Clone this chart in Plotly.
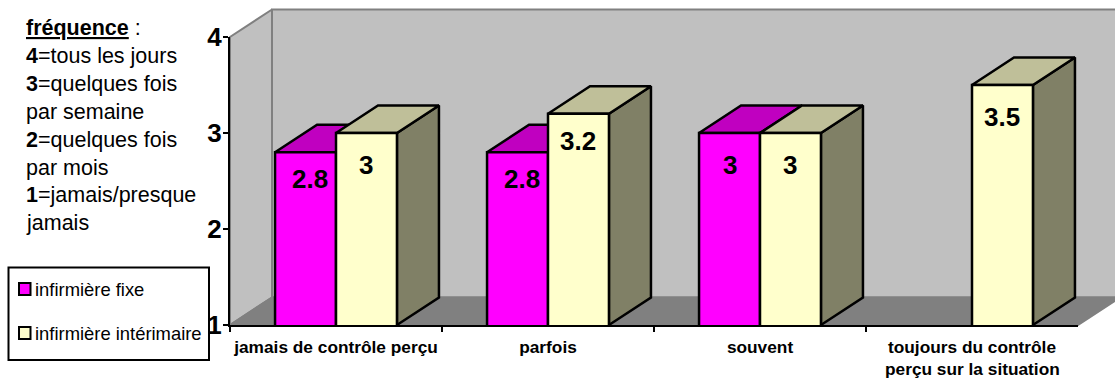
import plotly.graph_objects as go

# ---------- data ----------
categories = ["jamais de contrôle perçu", "parfois", "souvent", "toujours du contrôle"]
category_second_line = [None, None, None, "perçu sur la situation"]
series_fixe_name = "infirmière fixe"
series_interim_name = "infirmière intérimaire"
series_fixe = [2.8, 2.8, 3, None]
series_interim = [3, 3.2, 3, 3.5]
y_ticks = [1, 2, 3, 4]
note_lines = [
    "<u><b>fréquence</b></u> :",
    "<b>4</b>=tous les jours",
    "<b>3</b>=quelques fois",
    "par semaine",
    "<b>2</b>=quelques fois",
    "par mois",
    "<b>1</b>=jamais/presque",
    "jamais",
]

# ---------- geometry / style ----------
W, H = 1115, 383
FONT = "Liberation Sans, Arial, sans-serif"
X0, X1, Y1PX, Y4PX = 230, 1078, 325, 37      # front plane of the 3-D box, in px
PX_PER_CAT = (X1 - X0) / len(categories)
PX_PER_UNIT = (Y1PX - Y4PX) / 3
BAR_GAP = 0.425
BAR_W = (1 - BAR_GAP) / 2
DEPTH_X = 42 / PX_PER_CAT                    # depth in category units
DEPTH_Y = 27.5 / PX_PER_UNIT                 # depth in value units
C_WALL, C_FLOOR, C_EDGE = "#C0C0C0", "#808080", "#808080"
C_FIXE = ("#FF00FF", "#C000C0", "#800080")
C_INTERIM = ("#FFFFCC", "#BFBF99", "#808066")
LABEL_SIZE = 26
BAR_LINE = 2.5

x_min = -0.5 - X0 / PX_PER_CAT
x_max = x_min + W / PX_PER_CAT
y_min = 1 - (H - Y1PX) / PX_PER_UNIT
y_max = 1 + Y1PX / PX_PER_UNIT

fig = go.Figure()


def poly(xs, ys, fill, line="black", width=BAR_LINE):
    fig.add_trace(go.Scatter(
        x=xs + xs[:1], y=ys + ys[:1], mode="lines", fill="toself", fillcolor=fill,
        line=dict(color=line, width=width), hoverinfo="skip", showlegend=False,
        xaxis="x", yaxis="y"))


# walls and floor
L, R = -0.5, len(categories) - 0.5
poly([L + DEPTH_X, x_max + 1, x_max + 1, L + DEPTH_X],
     [1 + DEPTH_Y, 1 + DEPTH_Y, 4 + DEPTH_Y, 4 + DEPTH_Y], C_WALL, C_EDGE, 2)
poly([L, L + DEPTH_X, L + DEPTH_X, L], [1, 1 + DEPTH_Y, 4 + DEPTH_Y, 4], C_WALL, C_EDGE, 2)
poly([L, L + DEPTH_X, R + DEPTH_X, R], [1, 1 + DEPTH_Y, 1 + DEPTH_Y, 1], C_FLOOR, C_EDGE, 2)

# tops and sides of the bars
for slot, (vals, cols) in enumerate(((series_fixe, C_FIXE), (series_interim, C_INTERIM))):
    for i, v in enumerate(vals):
        if v is None:
            continue
        a = i + (slot - 1) * BAR_W
        b = a + BAR_W
        poly([b, b + DEPTH_X, b + DEPTH_X, b], [1, 1 + DEPTH_Y, v + DEPTH_Y, v], cols[2])
        poly([a, a + DEPTH_X, b + DEPTH_X, b], [v, v + DEPTH_Y, v + DEPTH_Y, v], cols[1])

# front faces: real bars on the visible axes
for name, vals, cols in ((series_fixe_name, series_fixe, C_FIXE),
                         (series_interim_name, series_interim, C_INTERIM)):
    fig.add_trace(go.Bar(
        x=categories, y=vals, name=name, xaxis="x2", yaxis="y2", showlegend=False,
        marker=dict(color=cols[0], line=dict(color="black", width=BAR_LINE))))

annotations = []

# value labels (offsets are small label nudges, in px)
for slot, vals in enumerate((series_fixe, series_interim)):
    for i, v in enumerate(vals):
        if v is None:
            continue
        near = v != 3 and v != 3.5
        annotations.append(dict(
            x=i + (slot - 0.5) * BAR_W, y=v, xref="x", yref="y", text=f"<b>{v:g}</b>",
            showarrow=False, xanchor="center", yanchor="middle",
            xshift=4 if (slot == 0 and near) else 0,
            yshift=-(27 if near else 32),
            font=dict(family=FONT, size=LABEL_SIZE, color="black")))

# second line of the category label
for i, t in enumerate(category_second_line):
    if t:
        annotations.append(dict(
            x=i, y=1, xref="x", yref="y", text=f"<b>{t}</b>", showarrow=False,
            xanchor="center", yanchor="middle", yshift=-44,
            font=dict(family=FONT, size=17.3, color="black")))

# note at the left
for k, t in enumerate(note_lines):
    annotations.append(dict(
        x=24 / W, y=1 - (28 + 27.9 * k) / H, xref="paper", yref="paper", text=t,
        showarrow=False, xanchor="left", yanchor="middle", align="left",
        font=dict(family=FONT, size=21.5, color="black")))

# legend box
shapes = [dict(type="rect", xref="paper", yref="paper", x0=8.5 / W, x1=209 / W,
               y0=1 - 360 / H, y1=1 - 267.5 / H, line=dict(color="black", width=2),
               fillcolor="rgba(0,0,0,0)")]
for yc, name, cols in ((289, series_fixe_name, C_FIXE), (333, series_interim_name, C_INTERIM)):
    shapes.append(dict(type="rect", xref="paper", yref="paper", x0=19 / W, x1=30.5 / W,
                       y0=1 - (yc + 6) / H, y1=1 - (yc - 6) / H,
                       line=dict(color="black", width=2), fillcolor=cols[0]))
    annotations.append(dict(
        x=32.5 / W, y=1 - yc / H, xref="paper", yref="paper", text=name, showarrow=False,
        xanchor="left", yanchor="middle",
        font=dict(family=FONT, size=18.4, color="black")))

fig.update_layout(
    width=W, height=H, margin=dict(l=0, r=0, t=0, b=0, autoexpand=False), autosize=False,
    paper_bgcolor="white", plot_bgcolor="rgba(0,0,0,0)",
    barmode="group", bargap=BAR_GAP, bargroupgap=0,
    xaxis=dict(domain=[0, 1], range=[x_min, x_max], visible=False, fixedrange=True),
    yaxis=dict(domain=[0, 1], range=[y_min, y_max], visible=False, fixedrange=True),
    xaxis2=dict(
        domain=[X0 / W, X1 / W], anchor="y2", type="category", categoryorder="array",
        categoryarray=categories, range=[-0.5, len(categories) - 0.5], tickson="boundaries",
        showgrid=False, zeroline=False, showline=True, linecolor="black", linewidth=2,
        ticks="outside", ticklen=5, tickwidth=2, tickcolor="black", ticklabelstandoff=5,
        tickangle=0,
        tickfont=dict(family=FONT, size=17.3, color="black", weight="bold"),
        fixedrange=True),
    yaxis2=dict(
        domain=[(H - Y1PX) / H, (H - Y4PX) / H], anchor="x2", range=[1, 4],
        tickvals=y_ticks, showgrid=False, zeroline=False, showline=True,
        linecolor="black", linewidth=2, ticks="outside", ticklen=5, tickwidth=2,
        tickcolor="black", ticklabelstandoff=-4,
        tickfont=dict(family=FONT, size=LABEL_SIZE, color="black", weight="bold"),
        fixedrange=True),
    shapes=shapes,
    annotations=annotations,
    showlegend=False,
)

fig.write_html("out.html", config={"displayModeBar": False},
               post_script="document.body.style.margin='0';document.body.style.overflow='hidden';")
